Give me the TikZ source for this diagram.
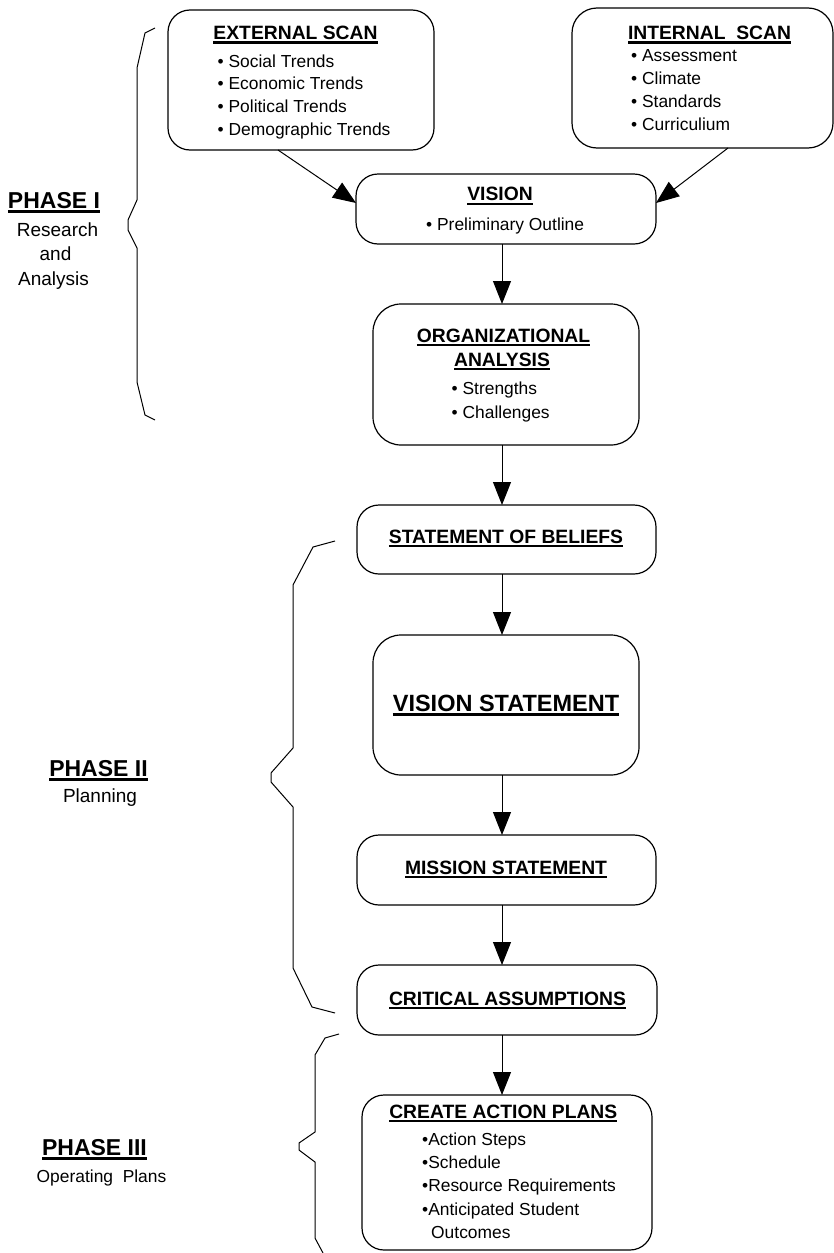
\documentclass[tikz,border=0pt]{standalone}
\usepackage{fontspec}
\setmainfont{Liberation Sans}
\usetikzlibrary{arrows.meta}

% text with a solid bar under it: #1 bar thickness, #2 depth of bar bottom
\newsavebox\ulinebox
\newcommand\ulbar[3]{\sbox\ulinebox{#3}\rlap{\rule[-#2]{\wd\ulinebox}{#1}}\usebox\ulinebox}
\newcommand\hd[1]{\ulbar{2.2pt}{4pt}{#1}}
\newcommand\ph[1]{\ulbar{3pt}{4.8pt}{#1}}

\tikzset{
  box/.style={draw, line width=1.2pt, rounded corners=22pt, inner sep=0pt, outer sep=0pt},
  tallbox/.style={box, rounded corners=28pt},
  head/.style={anchor=base, inner sep=0pt, font=\fontsize{19.3}{23}\selectfont\bfseries},
  bighead/.style={anchor=base, inner sep=0pt, font=\fontsize{23.5}{28}\selectfont\bfseries},
  item/.style={anchor=base west, inner sep=0pt, font=\fontsize{17.4}{21}\selectfont},
  phase/.style={anchor=base, inner sep=0pt, font=\fontsize{23}{27}\selectfont\bfseries},
  phasesub/.style={anchor=base, inner sep=0pt, font=\fontsize{19}{23}\selectfont},
  arr/.style={-{Triangle[length=23pt,width=18pt]}, line width=1pt},
  brace/.style={line width=1pt, line join=miter},
}

\begin{document}
\begin{tikzpicture}[x=1pt, y=-1pt]
\useasboundingbox (0,0) rectangle (834,1253);

% ---------- boxes ----------
\node[box, minimum width=266pt, minimum height=140pt] (ext) at (301,80) {};
\node[box, rounded corners=25pt, minimum width=261pt, minimum height=140pt] (int) at (702.5,78) {};
\node[box, minimum width=300pt, minimum height=70pt] (vision) at (506,209) {};
\node[tallbox, minimum width=266pt, minimum height=141pt] (org) at (506,374.5) {};
\node[box, minimum width=299pt, minimum height=69pt] (sob) at (506.5,539.5) {};
\node[tallbox, minimum width=266pt, minimum height=140pt] (vs) at (506,705) {};
\node[box, minimum width=299pt, minimum height=70pt] (ms) at (506.5,870) {};
\node[box, minimum width=300pt, minimum height=70pt] (ca) at (507,1000) {};
\node[box, minimum width=290pt, minimum height=155pt] (cap) at (507,1172.5) {};

% ---------- box texts ----------
\node[head] (extH) at (295.5,39.5) {\hd{EXTERNAL SCAN}};
\node[item] (ext1) at (217.5,67) {• Social Trends};
\node[item] (ext2) at (217.5,89.5) {• Economic Trends};
\node[item] (ext3) at (217.5,112) {• Political Trends};
\node[item] (ext4) at (217.5,135) {• Demographic Trends};

\node[head] (intH) at (709.5,39.5) {\hd{INTERNAL\ \ SCAN}};
\node[item] (int1) at (631,61) {• Assessment};
\node[item] (int2) at (631,84) {• Climate};
\node[item] (int3) at (631,107) {• Standards};
\node[item] (int4) at (631,130) {• Curriculium};

\node[head] (visH) at (500,200.7) {\hd{VISION}};
\node[item] (vis1) at (426,230.7) {• Preliminary Outline};

\node[head] (orgH1) at (503.5,342) {\hd{ORGANIZATIONAL}};
\node[head] (orgH2) at (502,366) {\hd{ANALYSIS}};
\node[item] (org1) at (451.5,394.5) {• Strengths};
\node[item] (org2) at (451.5,418.3) {• Challenges};

\node[head] (sobH) at (506,543.3) {\hd{STATEMENT OF BELIEFS}};
\node[bighead] (vsH) at (506,711) {\ulbar{2.6pt}{4.6pt}{VISION STATEMENT}};
\node[head] (msH) at (506,874) {\hd{MISSION STATEMENT}};
\node[head] (caH) at (507.5,1005) {\hd{CRITICAL ASSUMPTIONS}};

\node[head] (capH) at (503.3,1118.3) {\hd{CREATE ACTION PLANS}};
\node[item] (cap1) at (422,1145) {•Action Steps};
\node[item] (cap2) at (422,1168.3) {•Schedule};
\node[item] (cap3) at (422,1191.7) {•Resource Requirements};
\node[item] (cap4) at (422,1215) {•Anticipated Student};
\node[item] (cap5) at (431,1238.3) {Outcomes};

% ---------- phase labels ----------
\node[phase] (p1) at (54,208) {\ph{PHASE I}};
\node[phasesub] (p1a) at (57.5,236) {Research};
\node[phasesub] (p1b) at (55.5,260.5) {and};
\node[phasesub] (p1c) at (53.5,285) {Analysis};

\node[phase] (p2) at (98.5,776) {\ph{PHASE II}};
\node[phasesub] (p2a) at (100,802) {Planning};

\node[phase] (p3) at (94.5,1155) {\ph{PHASE III}};
\node[phasesub, font=\fontsize{17.4}{21}\selectfont] (p3a) at (101.5,1182.7) {Operating\ \ Plans};

% ---------- connectors ----------
\coordinate (ax) at (502,0);
\draw[arr] ([xshift=110pt]ext.south west) -- ([yshift=6pt]vision.west);
\draw[arr] ([xshift=156pt]int.south west) -- ([yshift=6pt]vision.east);
\draw[arr] (vision.south -| ax) -- (org.north -| ax);
\draw[arr] (org.south -| ax) -- (sob.north -| ax);
\draw[arr] (sob.south -| ax) -- (vs.north -| ax);
\draw[arr] (vs.south -| ax) -- (ms.north -| ax);
\draw[arr] (ms.south -| ax) -- (ca.north -| ax);
\draw[arr] (ca.south -| ax) -- (cap.north -| ax);

% ---------- phase braces ----------
\draw[brace] (155,28) -- (145,33) -- (137,68) -- (137,200) -- (128,220) -- (128,230)
  -- (137,248) -- (137,382) -- (145,415) -- (155,420);
\draw[brace] (335,541) -- (313,547) -- (293,585) -- (293,748) -- (271,773) -- (271,782)
  -- (293,807) -- (293,968) -- (312,1007) -- (335,1013);
\draw[brace] (339,1034) -- (325,1038) -- (315,1055) -- (315,1132) -- (299,1143) -- (299,1150)
  -- (315,1162) -- (315,1238) -- (323,1253);
\end{tikzpicture}
\end{document}
